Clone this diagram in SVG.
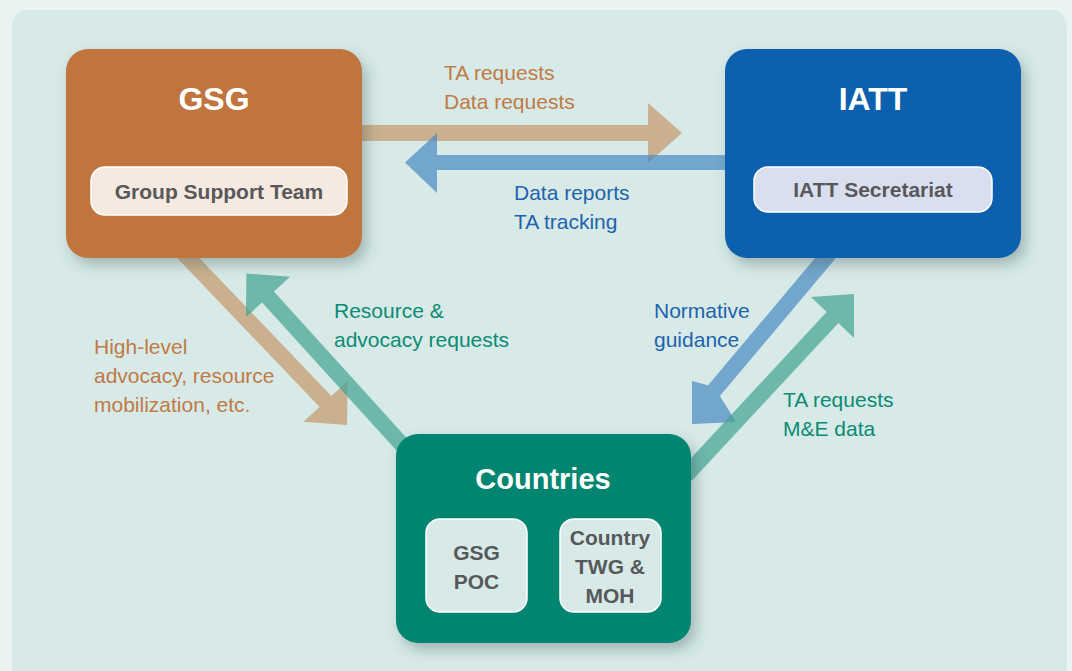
<svg xmlns="http://www.w3.org/2000/svg" width="1072" height="671" viewBox="0 0 1072 671">
  <defs>
    <filter id="shadow" x="-20%" y="-20%" width="150%" height="160%">
      <feDropShadow dx="5" dy="7" stdDeviation="7" flood-color="#3d5552" flood-opacity="0.35"/>
    </filter>
    <style>
      .title { font-family: "Liberation Sans", Arial, sans-serif; font-weight: bold; fill: #ffffff; text-anchor: middle; }
      .sub { font-family: "Liberation Sans", Arial, sans-serif; font-weight: bold; font-size: 21px; fill: #58585a; text-anchor: middle; }
      .lbl { font-family: "Liberation Sans", Arial, sans-serif; font-size: 21px; }
      .or { fill: #c07a45; }
      .bl { fill: #1d63ae; }
      .tl { fill: #0b8a74; }
      .a-or { fill: #c6976a; opacity: 0.7; }
      .a-bl { fill: #4989c0; opacity: 0.7; }
      .a-tl { fill: #40a391; opacity: 0.7; }
      .pill { stroke: #ffffff; stroke-width: 1.5; }
    </style>
  </defs>

  <rect x="0" y="0" width="1072" height="671" fill="#e9f3f2"/>
  <rect x="12" y="10" width="1055" height="675" rx="16" fill="#d7eae8"/>

  <g id="connectors">
    <!-- GSG -> IATT (orange, horizontal) -->
    <polygon class="a-or" points="350,125 648,125 648,103 682,133 648,163 648,141 350,141"/>
    <!-- IATT -> GSG (blue, horizontal) -->
    <polygon class="a-bl" points="740,155 437,155 437,133 405,162.5 437,193 437,170 740,170"/>
    <!-- GSG -> Countries (orange, diagonal) -->
    <polygon class="a-or" points="169.4,249.8 319.6,407 303.4,421.8 347,425 347.6,381.2 331.4,396 181.2,239"/>
    <!-- Countries -> GSG (teal, diagonal) -->
    <polygon class="a-tl" points="273.9,291.6 423,456 411.2,466.8 262.1,302.4 245.9,317.3 246.4,273.4 290.1,276.8"/>
    <!-- IATT -> Countries (blue, diagonal) -->
    <polygon class="a-bl" points="854.4,236 719.9,396.1 736,422 692,424 692,381 708.1,385.3 842.6,225.2"/>
    <!-- Countries -> IATT (teal, diagonal) -->
    <polygon class="a-tl" points="680,470 826.6,312.1 811,297 854,294 854,338 838.4,322.9 691.8,480.8"/>
  </g>

  <g id="gsg">
    <rect x="66" y="49" width="296" height="209" rx="22" fill="#bf743c" filter="url(#shadow)"/>
    <text class="title" x="214" y="110" font-size="32">GSG</text>
    <rect class="pill" x="91" y="167" width="256" height="48" rx="14" fill="#f6e9df"/>
    <text class="sub" x="219" y="199">Group Support Team</text>
  </g>

  <g id="iatt">
    <rect x="725" y="49" width="296" height="209" rx="22" fill="#1160ad" filter="url(#shadow)"/>
    <text class="title" x="873" y="110" font-size="32">IATT</text>
    <rect class="pill" x="754" y="167" width="238" height="45" rx="14" fill="#dadff0"/>
    <text class="sub" x="873" y="197">IATT Secretariat</text>
  </g>

  <g id="countries">
    <rect x="396" y="434" width="295" height="209" rx="22" fill="#008571" filter="url(#shadow)"/>
    <text class="title" x="543" y="489" font-size="29">Countries</text>
    <g id="gsg-poc">
      <rect class="pill" x="426" y="519" width="101" height="93" rx="14" fill="#d7eae8"/>
      <text class="sub" x="476.5" y="560">GSG</text>
      <text class="sub" x="476.5" y="589">POC</text>
    </g>
    <g id="country-twg">
      <rect class="pill" x="560" y="519" width="101" height="93" rx="14" fill="#d7eae8"/>
      <text class="sub" x="610" y="545">Country</text>
      <text class="sub" x="610" y="574">TWG &amp;</text>
      <text class="sub" x="610" y="603">MOH</text>
    </g>
  </g>

  <g id="labels">
    <text class="lbl or" x="444" y="80">TA requests</text>
    <text class="lbl or" x="444" y="109">Data requests</text>
    <text class="lbl bl" x="514" y="200">Data reports</text>
    <text class="lbl bl" x="514" y="229">TA tracking</text>
    <text class="lbl tl" x="334" y="318">Resource &amp;</text>
    <text class="lbl tl" x="334" y="347">advocacy requests</text>
    <text class="lbl or" x="94" y="354">High-level</text>
    <text class="lbl or" x="94" y="383">advocacy, resource</text>
    <text class="lbl or" x="94" y="412">mobilization, etc.</text>
    <text class="lbl bl" x="654" y="318">Normative</text>
    <text class="lbl bl" x="654" y="347">guidance</text>
    <text class="lbl tl" x="783" y="407">TA requests</text>
    <text class="lbl tl" x="783" y="436">M&amp;E data</text>
  </g>
</svg>
